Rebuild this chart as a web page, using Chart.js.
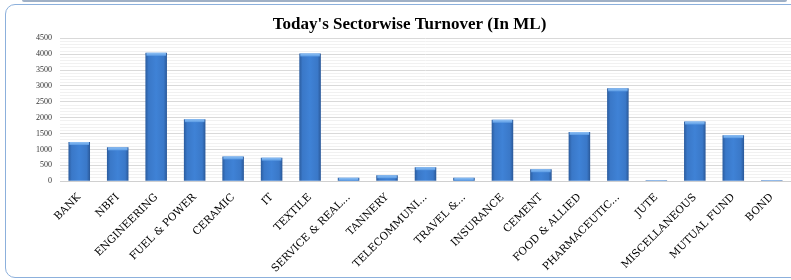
<!DOCTYPE html>
<html>
<head>
<meta charset="utf-8">
<script src="https://cdn.jsdelivr.net/npm/chart.js@4/dist/chart.umd.min.js"></script>
<style>
  html, body { margin: 0; padding: 0; background: #fff; }
  body { width: 791px; height: 280px; position: relative; overflow: hidden; }
  .topband { position: absolute; left: 22px; top: 0; width: 765px; height: 2px; background: #9fb0c6; border-radius: 0 0 2px 2px; }
  .frame { position: absolute; left: 5px; top: 4px; width: 800px; height: 272px; border: 1px solid #8cb0dc; border-radius: 10px; }
  #wrap { position: absolute; left: 0; top: 0; width: 791px; height: 280px; }
</style>
</head>
<body>
<div class="topband"></div>
<div class="frame"></div>
<div id="wrap"><canvas id="turnoverChart" width="791" height="280"></canvas></div>
<script>
// ==================== DATA ====================
const sectors = [
  "BANK", "NBFI", "ENGINEERING", "FUEL & POWER", "CERAMIC", "IT", "TEXTILE",
  "SERVICE & REAL...", "TANNERY", "TELECOMMUNI...", "TRAVEL &...", "INSURANCE",
  "CEMENT", "FOOD & ALLIED", "PHARMACEUTIC...", "JUTE", "MISCELLANEOUS",
  "MUTUAL FUND", "BOND"
];
const turnover = [
  1235, 1065, 4045, 1955, 780, 740, 4025,
  105, 185, 440, 105, 1935,
  375, 1550, 2925, 25, 1880,
  1450, 25
];
const yTicks = [0, 500, 1000, 1500, 2000, 2500, 3000, 3500, 4000, 4500];

// ==================== BAR STYLE ====================
function barFill(context) {
  const chart = context.chart;
  const xs = chart.scales.x;
  if (!xs || !chart.chartArea) return "#3b79cc";
  const cx = xs.getPixelForValue(context.dataIndex);
  const half = xs.width / sectors.length * 0.28;
  const g = chart.ctx.createLinearGradient(cx - half, 0, cx + half, 0);
  g.addColorStop(0, "#2b5c9e");
  g.addColorStop(0.15, "#3a78c8");
  g.addColorStop(0.5, "#3f82d6");
  g.addColorStop(0.85, "#3a78c8");
  g.addColorStop(1, "#2a5898");
  return g;
}

// light cap at the top of each bar
const capPlugin = {
  id: "caps",
  afterDatasetsDraw(chart) {
    const ctx = chart.ctx;
    chart.getDatasetMeta(0).data.forEach(bar => {
      const h = bar.base - bar.y;
      const capH = Math.min(3, h);
      if (capH <= 0) return;
      const g = ctx.createLinearGradient(0, bar.y, 0, bar.y + capH);
      g.addColorStop(0, "#8ec0f4");
      g.addColorStop(1, "#5b9be4");
      ctx.save();
      ctx.fillStyle = g;
      ctx.fillRect(bar.x - bar.width / 2 + 1, bar.y, bar.width - 2, capH);
      ctx.restore();
    });
  }
};

// ==================== CHART ====================
window.onload = function () {
  const ctx = document.getElementById("turnoverChart").getContext("2d");
  new Chart(ctx, {
    type: "bar",
    data: {
      labels: sectors,
      datasets: [{
        label: "Turnover",
        data: turnover,
        backgroundColor: barFill,
        borderWidth: 0,
        categoryPercentage: 1,
        barPercentage: 0.56
      }]
    },
    options: {
      responsive: false,
      animation: false,
      layout: { padding: { left: 28, right: 0, top: 6, bottom: 3 } },
      plugins: {
        legend: { display: false },
        tooltip: { enabled: false },
        title: {
          display: true,
          text: "Today's Sectorwise Turnover (In ML)",
          color: "#000",
          font: { family: "'Liberation Serif', serif", size: 17, weight: "bold" },
          padding: { top: 8, bottom: 4 }
        }
      },
      scales: {
        y: {
          min: 0,
          max: 4500,
          afterBuildTicks: axis => {
            const t = [];
            for (let v = 0; v <= 4500; v += 100) t.push({ value: v });
            axis.ticks = t;
          },
          ticks: {
            autoSkip: false,
            color: "#333",
            padding: 8,
            font: { family: "'Liberation Serif', serif", size: 8 },
            callback: v => (yTicks.includes(v) ? v : "")
          },
          grid: {
            drawTicks: false,
            color: c => (c.tick && c.tick.value % 500 === 0 ? "#d9d9d9" : "#f1f1f1")
          },
          border: { display: false }
        },
        x: {
          ticks: {
            autoSkip: false,
            minRotation: 45,
            maxRotation: 45,
            color: "#000",
            padding: 2,
            font: { family: "'DejaVu Serif', serif", size: 10.5 }
          },
          grid: { display: false },
          border: { color: "#d0d0d0" }
        }
      }
    },
    plugins: [capPlugin]
  });
};
</script>
</body>
</html>
